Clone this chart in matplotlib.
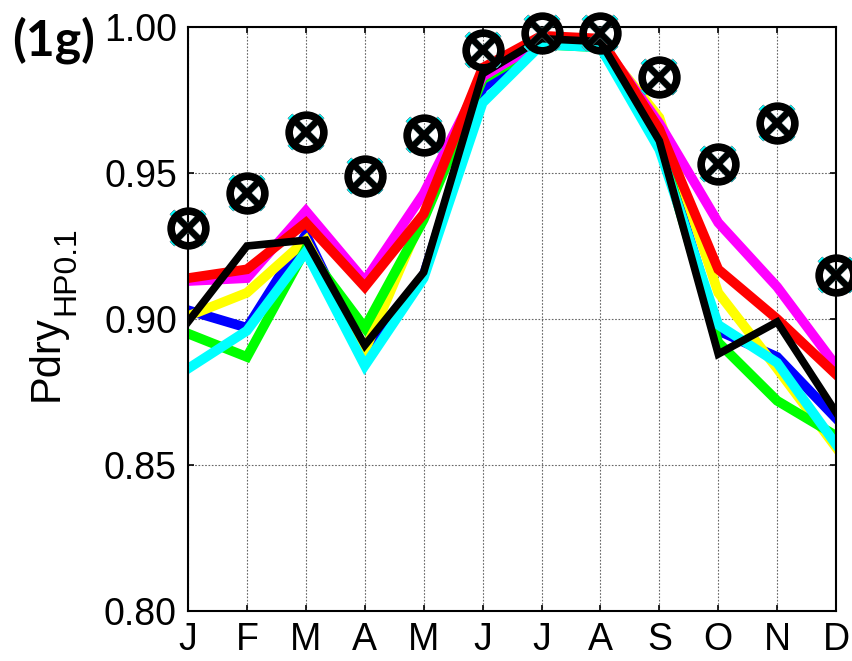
import matplotlib
matplotlib.use("Agg")
import matplotlib.pyplot as plt

months = ["J", "F", "M", "A", "M", "J", "J", "A", "S", "O", "N", "D"]

# observed Pdry (circle + cross markers)
obs = [0.931, 0.943, 0.964, 0.949, 0.963, 0.992, 0.998, 0.998, 0.983, 0.953, 0.967, 0.915]

# model runs
blue    = [0.903, 0.897, 0.929, 0.887, 0.915, 0.979, 0.995, 0.994, 0.961, 0.896, 0.887, 0.866]
yellow  = [0.901, 0.909, 0.927, 0.889, 0.936, 0.983, 0.995, 0.994, 0.969, 0.909, 0.883, 0.856]
green   = [0.895, 0.887, 0.924, 0.897, 0.934, 0.982, 0.994, 0.993, 0.961, 0.892, 0.872, 0.860]
magenta = [0.913, 0.914, 0.937, 0.913, 0.943, 0.983, 0.995, 0.995, 0.967, 0.933, 0.911, 0.884]
red     = [0.914, 0.917, 0.933, 0.911, 0.936, 0.986, 0.997, 0.996, 0.965, 0.917, 0.900, 0.881]
cyan    = [0.883, 0.896, 0.923, 0.884, 0.914, 0.974, 0.994, 0.993, 0.958, 0.898, 0.885, 0.857]
black   = [0.899, 0.925, 0.927, 0.891, 0.916, 0.984, 0.996, 0.995, 0.961, 0.888, 0.899, 0.868]

yticks = [0.80, 0.85, 0.90, 0.95, 1.00]

plt.rcParams["font.family"] = ["Liberation Sans", "DejaVu Sans"]

fig = plt.figure(figsize=(8.52, 6.61), dpi=100)
ax = fig.add_axes([0.2207, 0.0756, 0.7606, 0.8836])

x = range(len(months))
series = [(blue, "#0000ff"), (yellow, "#ffff00"), (green, "#00ff00"),
          (magenta, "#ff00ff"), (red, "#ff0000"), (cyan, "#00ffff")]
for vals, c in series:
    ax.plot(x, vals, color=c, lw=7, solid_joinstyle="miter", zorder=2)
    # coloured obs markers sit just under the black ones
    ax.plot(x, obs, ls="none", marker="x", ms=23, mec=c, mew=4.5, zorder=4, clip_on=False)
ax.plot(x, black, color="black", lw=5.5, solid_joinstyle="miter", zorder=3)

# observations: open circle with a cross
ax.plot(x, obs, ls="none", marker="o", ms=25, mfc="none", mec="black", mew=5.5,
        zorder=5, clip_on=False)
ax.plot(x, obs, ls="none", marker="x", ms=20, mec="black", mew=4.5, zorder=5, clip_on=False)

ax.set_xlim(0, 11)
ax.set_ylim(0.80, 1.00)
ax.set_xticks(list(x))
ax.set_xticklabels(months)
ax.set_yticks(yticks)
ax.set_yticklabels([f"{t:.2f}" for t in yticks])
ax.tick_params(direction="in", length=4, width=1.2, labelsize=27, pad=8,
               top=True, right=True)
ax.grid(True, color="#666666", ls=(0, (1.5, 1.5)), lw=0.8)
for s in ax.spines.values():
    s.set_linewidth(1.5)

# y label with an enlarged subscript
fig.text(47 / 852, 1 - 358 / 661, "Pdry", fontsize=30, rotation=90,
         ha="center", va="center")
fig.text(66 / 852, 1 - 271 / 661, "HP0.1", fontsize=23, rotation=90,
         ha="center", va="center")

fig.text(12 / 852, 1 - 55 / 661, "(1g)", fontsize=36, fontweight="bold",
         family="Lato", va="baseline")

plt.savefig("out.png", dpi=100)
